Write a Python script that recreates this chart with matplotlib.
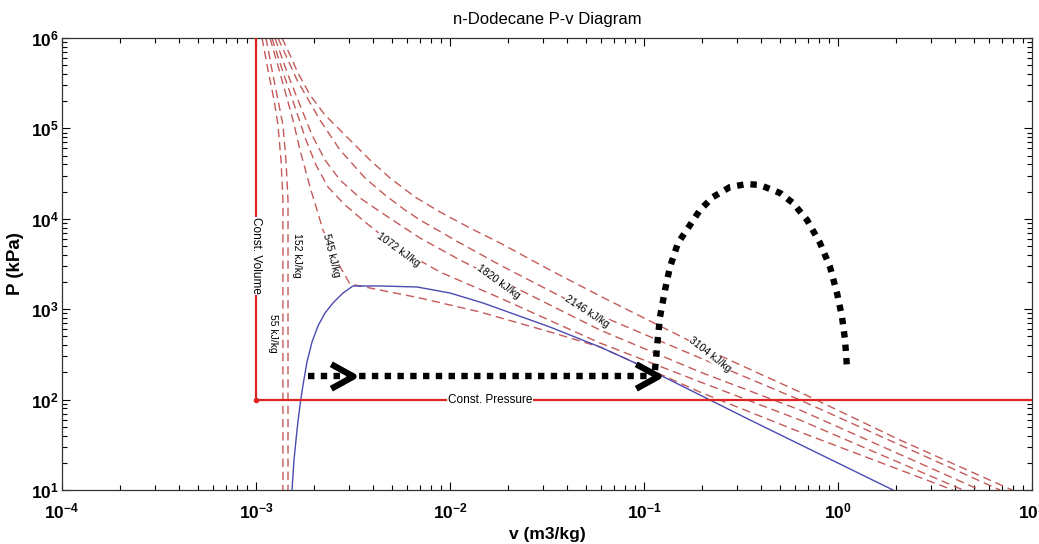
import numpy as np
import matplotlib
matplotlib.use("Agg")
import matplotlib.pyplot as plt

plt.rcParams["font.family"] = ["Liberation Sans", "DejaVu Sans"]
plt.rcParams["mathtext.default"] = "regular"

# ---------------- data ----------------
# saturation dome (blue)
sat_v = [1.533e-3, 1.570e-3, 1.627e-3, 1.686e-3, 1.747e-3, 1.832e-3, 1.944e-3, 2.087e-3,
         2.268e-3, 2.493e-3, 2.809e-3, 3.162e-3, 4.356e-3, 6.76e-3, 0.0100, 0.0148,
         0.03277, 0.05931, 0.0877, 0.1209, 0.2189, 0.3519, 1.921]
sat_P = [10, 21.5, 46.1, 87.1, 145, 261, 434, 652,
         908, 1171, 1511, 1806, 1806, 1761, 1511, 1171,
         635, 382, 261, 187, 99, 59.5, 10]

# isenthalps (red dashed)
h55_v = [1.074e-3, 1.153e-3, 1.239e-3, 1.298e-3, 1.345e-3, 1.377e-3, 1.377e-3]
h55_P = [1e6, 4.43e5, 2.06e5, 1.09e5, 4.47e4, 1.61e4, 10]

h152_v = [1.126e-3, 1.209e-3, 1.298e-3, 1.377e-3, 1.427e-3, 1.462e-3, 1.462e-3]
h152_P = [1e6, 4.43e5, 2.06e5, 1.09e5, 4.47e4, 1.61e4, 10]

h545_v = [1.181e-3, 1.361e-3, 1.551e-3, 1.686e-3, 1.899e-3, 2.215e-3, 2.554e-3, 3.051e-3,
          4.356e-3, 7.005e-3, 0.01428, 0.03277, 0.05931, 0.1944, 0.6366, 3.915]
h545_P = [1e6, 3.43e5, 1.239e5, 5.77e4, 2.247e4, 7.52e3, 3.68e3, 1.90e3,
          1.631e3, 1.330e3, 931, 560, 382, 121, 43.8, 10]

h1072_v = [1.209e-3, 1.393e-3, 1.608e-3, 1.810e-3, 2.038e-3, 2.350e-3, 2.876e-3, 3.646e-3,
           4.622e-3, 6.220e-3, 8.88e-3, 0.01810, 0.05931, 0.1944, 0.6366, 4.410]
h1072_P = [1e6, 3.90e5, 1.597e5, 7.44e4, 3.94e4, 2.247e4, 1.421e4, 9.22e3,
           6.13e3, 3.98e3, 2.58e3, 1.330e3, 423, 157, 59.5, 10]

h1820_v = [1.253e-3, 1.462e-3, 1.686e-3, 1.944e-3, 2.268e-3, 2.710e-3, 3.436e-3, 4.622e-3,
           7.005e-3, 0.01126, 0.01768, 0.05931, 0.1944, 0.6366, 5.395]
h1820_P = [1e6, 3.90e5, 1.815e5, 8.45e4, 4.47e4, 2.687e4, 1.699e4, 1.102e4,
           6.13e3, 3.50e3, 2.16e3, 589, 202, 76.7, 10]

h2146_v = [1.298e-3, 1.627e-3, 2.137e-3, 2.710e-3, 3.646e-3, 4.622e-3, 5.861e-3, 7.005e-3,
           0.01126, 0.01810, 0.05085, 0.1944, 0.6366, 6.842]
h2146_P = [1e6, 3.43e5, 1.239e5, 5.77e4, 2.83e4, 1.834e4, 1.251e4, 9.70e3,
           5.40e3, 3.08e3, 980, 289, 99, 10]

h3104_v = [1.361e-3, 1.497e-3, 1.646e-3, 1.899e-3, 2.268e-3, 2.944e-3, 3.870e-3, 4.905e-3,
           6.60e-3, 8.88e-3, 0.01268, 0.01810, 0.03277, 0.05931, 0.2242, 0.6366, 2.087, 7.887]
h3104_P = [1e6, 6.49e5, 4.10e5, 2.34e5, 1.407e5, 8.03e4, 4.47e4, 2.83e4,
           1.743e4, 1.189e4, 7.91e3, 5.40e3, 2.71e3, 1.400e3, 336, 121, 35.7, 10]

isenthalps = [(h55_v, h55_P), (h152_v, h152_P), (h545_v, h545_P), (h1072_v, h1072_P),
              (h1820_v, h1820_P), (h2146_v, h2146_P), (h3104_v, h3104_P)]

# contour labels: text, v, P, rotation
label_text = ["55 kJ/kg", "152 kJ/kg", "545 kJ/kg", "1072 kJ/kg", "1820 kJ/kg", "2146 kJ/kg", "3104 kJ/kg"]
label_v = [1.224e-3, 1.627e-3, 2.435e-3, 5.395e-3, 0.01768, 0.05085, 0.2189]
label_P = [546, 3.98e3, 3.98e3, 4.52e3, 2.0e3, 931, 311]
label_rot = [-90, -90, -76, -36, -36, -33, -38]

# constant-volume / constant-pressure lines
cv_v = [1e-3, 1e-3]
cv_P = [100, 1e6]
cp_v = [1e-3, 10]
cp_P = [100, 100]

# process path (black dotted)
path_h_v = [1.853e-3, 0.1139]
path_h_P = [182, 182]
arc_v = [0.1139, 0.1167, 0.1209, 0.1283, 0.1361, 0.1497, 0.1686, 0.1944, 0.2268, 0.2776,
         0.3396, 0.3962, 0.5023, 0.5861, 0.6922, 0.8077, 0.9096, 0.988, 1.049, 1.087, 1.113]
arc_P = [212, 382, 820, 1631, 2930, 5400, 7910, 12510, 17430, 22470,
         24270, 23650, 19290, 14950, 9700, 5400, 2930, 1511, 820, 456, 224]
arrow_v = [3.162e-3, 0.1181]
arrow_P = [182, 182]

# axes ticks
xtick_vals = [1e-4, 1e-3, 1e-2, 1e-1, 1e0, 1e1]
xtick_labels = ["$10^{-4}$", "$10^{-3}$", "$10^{-2}$", "$10^{-1}$", "$10^{0}$", "$10^{1}$"]
ytick_vals = [1e1, 1e2, 1e3, 1e4, 1e5, 1e6]
ytick_labels = ["$10^{1}$", "$10^{2}$", "$10^{3}$", "$10^{4}$", "$10^{5}$", "$10^{6}$"]

# ---------------- figure ----------------
W, H = 1039, 544
fig = plt.figure(figsize=(W / 100, H / 100), dpi=100)
ax = fig.add_axes([62 / W, 1 - 490 / H, 970 / W, 452 / H])
ax.set_xscale("log")
ax.set_yscale("log")
ax.set_xlim(1e-4, 10)
ax.set_ylim(10, 1e6)

dash_col = "#c45a5a"
for v, P in isenthalps:
    ax.plot(v, P, color=dash_col, lw=1.0, dashes=(6, 3.5), zorder=2)

ax.plot(sat_v, sat_P, color="#4a4ab0", lw=1.0, zorder=3)

red = "#e02424"
ax.plot(cv_v, cv_P, color=red, lw=1.6, zorder=3)
ax.plot(cp_v, cp_P, color=red, lw=1.6, zorder=3)
ax.plot([cv_v[0]], [cp_P[0]], marker="o", ms=3, color=red, zorder=3)

for t, v, P, r in zip(label_text, label_v, label_P, label_rot):
    ax.text(v, P, t, rotation=r, fontsize=7.5, ha="center", va="center", zorder=5,
            rotation_mode="anchor", bbox=dict(facecolor="white", edgecolor="none", pad=0.4))

ax.text(1e-3, 3.9e3, "Const. Volume", rotation=-90, fontsize=8.5, ha="center", va="center",
        zorder=5, bbox=dict(facecolor="white", edgecolor="none", pad=0.6))
ax.text(0.0161, 100, "Const. Pressure", fontsize=8.5, ha="center", va="center", zorder=5,
        bbox=dict(facecolor="white", edgecolor="none", pad=0.6))

# process path
ax.plot(path_h_v, path_h_P, color="black", lw=4.6, linestyle=(0, (1, 1)),
        dash_capstyle="butt", zorder=6)
ax.plot(arc_v, arc_P, color="black", lw=4.6, linestyle=(0, (1, 1.1)),
        dash_capstyle="butt", zorder=6)
chevron = [(-1, 0.55), (0, 0), (-1, -0.55)]
ax.plot(arrow_v, arrow_P, linestyle="none", marker=chevron, ms=32, mew=4.5,
        mec="black", mfc="none", zorder=7)

# axes styling
ax.set_xticks(xtick_vals, labels=xtick_labels, fontweight="bold", fontsize=12.5)
ax.set_yticks(ytick_vals, labels=ytick_labels, fontweight="bold", fontsize=12.5)
ax.tick_params(which="both", direction="in", top=True, right=True)
ax.tick_params(which="major", length=6, width=0.8)
ax.tick_params(which="minor", length=3.5, width=0.8)
ax.tick_params(axis="x", pad=8)
ax.tick_params(axis="y", pad=2)
for s in ax.spines.values():
    s.set_linewidth(0.9)
    s.set_color("#333333")

ax.set_title("n-Dodecane P-v Diagram", fontsize=12, pad=10)
ax.set_xlabel("v (m3/kg)", fontsize=12.5, fontweight="bold", labelpad=4)
ax.set_ylabel("P (kPa)", fontsize=13.5, fontweight="bold", labelpad=5)

fig.savefig("out.png", dpi=100)
